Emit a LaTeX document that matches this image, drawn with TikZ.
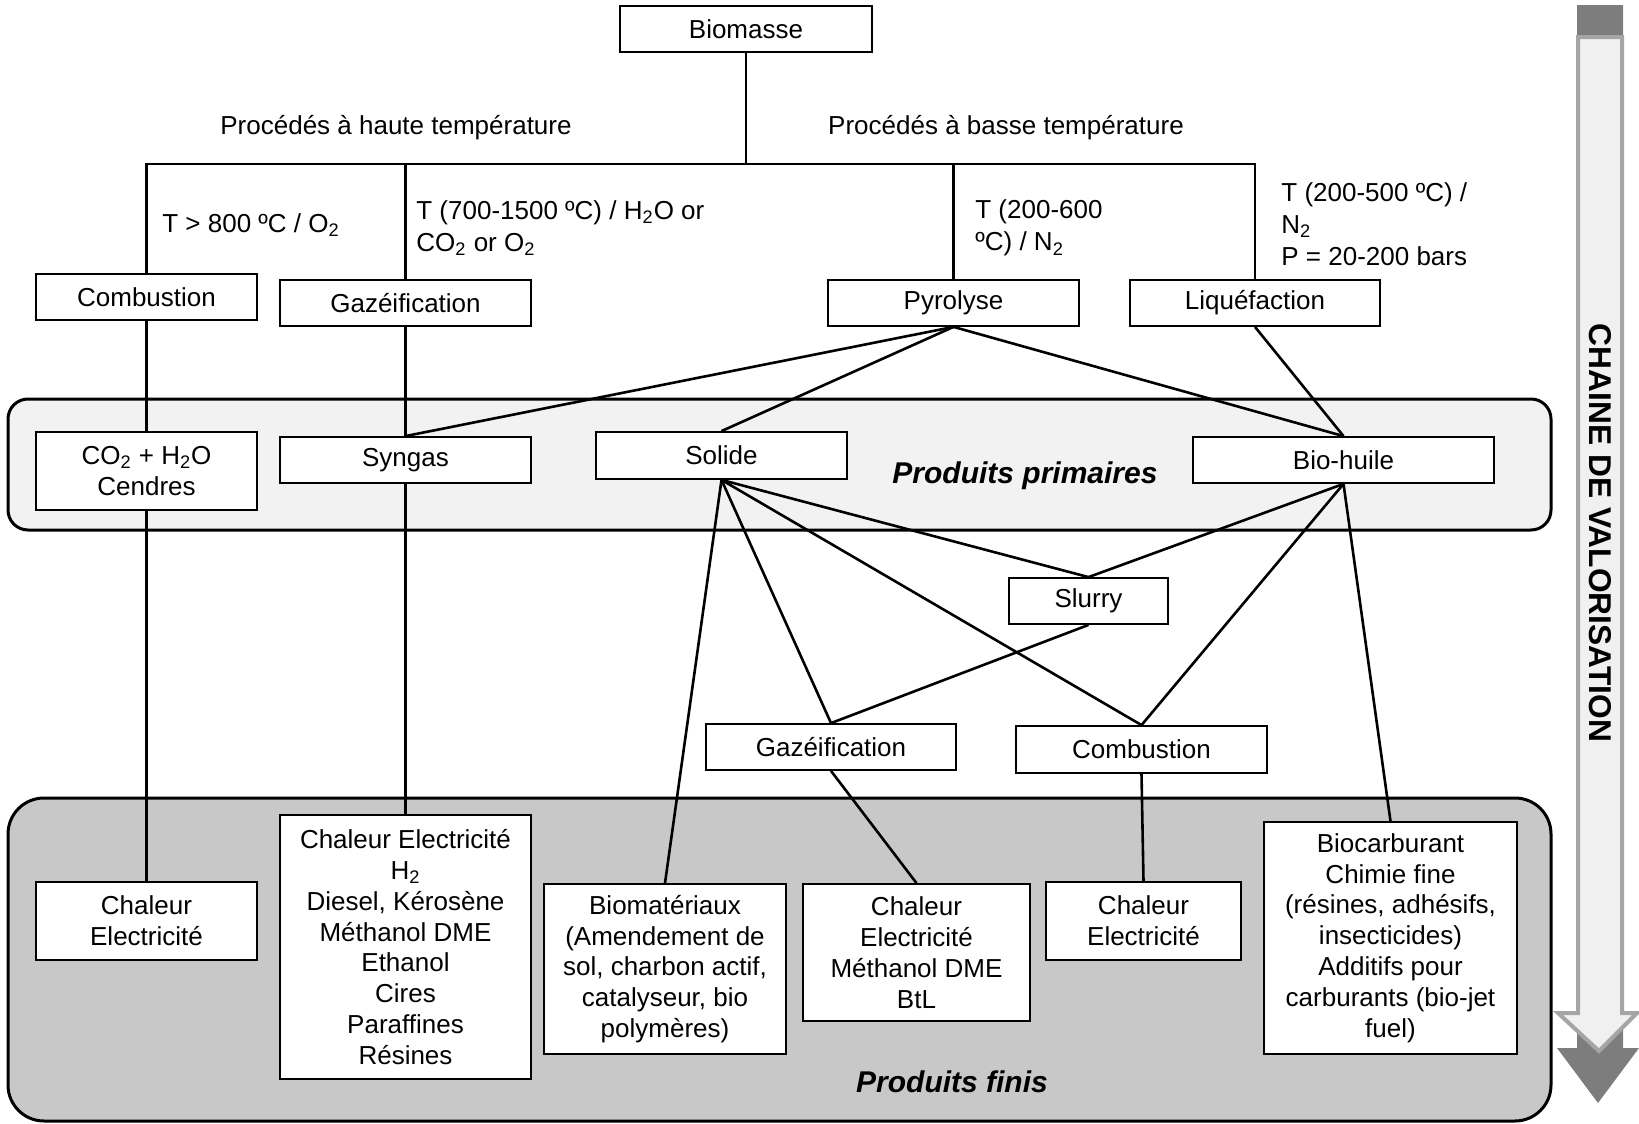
\documentclass[tikz,border=0pt]{standalone}
\usepackage{fontspec}
\setmainfont{Liberation Sans}
\definecolor{primfill}{RGB}{242,242,242}
\definecolor{finfill}{RGB}{200,200,200}
\definecolor{arrdark}{RGB}{125,125,125}
\definecolor{arrlight}{RGB}{240,240,240}
\definecolor{arredge}{RGB}{165,165,165}
\begin{document}
\begin{tikzpicture}[x=0.5pt,y=-0.5pt,
  box/.style={draw, fill=white, line width=0.9pt, inner sep=0pt, align=center,
    font=\fontsize{13}{15.4}\selectfont},
  lbl/.style={inner sep=0pt, align=left, anchor=west, font=\fontsize{13}{16}\selectfont},
  head/.style={inner sep=0pt, font=\fontsize{13}{16}\selectfont},
  bandlbl/.style={inner sep=0pt, font=\fontsize{15}{18}\selectfont\bfseries\itshape},
  conn/.style={line width=1.3pt},
  band/.style={draw, line width=1.5pt}]
\useasboundingbox (0,0) rectangle (1639,1124);

% bands
\draw[band, fill=primfill, rounded corners=10pt] (8,399) rectangle (1551,530);
\draw[band, fill=finfill, rounded corners=18pt] (8,798) rectangle (1551,1121);

% arrow on the right
\fill[arrdark] (1577,5) -- (1623,5) -- (1623,1048) -- (1639,1048) -- (1598,1103)
  -- (1557,1048) -- (1577,1048) -- cycle;
\draw[arredge, fill=arrlight, line width=2pt] (1578,37) -- (1622,37) -- (1622,1013)
  -- (1637,1013) -- (1599,1051) -- (1558,1013) -- (1578,1013) -- cycle;
\node[rotate=-90, inner sep=0pt] (cv) at (1600,533)
  {\resizebox{209pt}{11pt}{\bfseries CHAINE DE VALORISATION}};

% top level
\node[box, minimum width=126pt, minimum height=23pt] (bio) at (746,29) {Biomasse};
\node[box, minimum width=110.5pt, minimum height=23pt] (comb) at (146.5,297) {Combustion};
\node[box, minimum width=125.5pt, minimum height=23pt] (gaz) at (405.5,303) {Gazéification};
\node[box, minimum width=125.5pt, minimum height=23pt] (pyro) at (953.5,303) {Pyrolyse};
\node[box, minimum width=125pt, minimum height=23pt] (liq) at (1255,303) {Liquéfaction};

\node[head] (ht) at (396,128) {Procédés à haute température};
\node[head] (bt) at (1006,128) {Procédés à basse température};
\node[lbl] (l1) at (162,225) {T > 800 ºC / O\textsubscript{2}};
\node[lbl] (l2) at (416,228) {T (700-1500 ºC) / H\textsubscript{2}O or\\CO\textsubscript{2} or O\textsubscript{2}};
\node[lbl] (l3) at (975,228) {T (200-600\\ºC) / N\textsubscript{2}};
\node[lbl] (l4) at (1281,224) {T (200-500 ºC) /\\N\textsubscript{2}\\P = 20-200 bars};

% primary products
\node[box, minimum width=110.5pt, minimum height=39pt] (co2) at (146.5,471)
  {CO\textsubscript{2} + H\textsubscript{2}O\\Cendres};
\node[box, minimum width=125.5pt, minimum height=23pt] (syn) at (405.5,460) {Syngas};
\node[box, minimum width=125.5pt, minimum height=23.5pt] (sol) at (721.5,455.5) {Solide};
\node[box, minimum width=150.5pt, minimum height=23pt] (bh) at (1343.5,460) {Bio-huile};
\node[bandlbl] (pp) at (1025,476) {Produits primaires};

% intermediate
\node[box, minimum width=79.5pt, minimum height=23pt] (slu) at (1088.5,601) {Slurry};
\node[box, minimum width=125pt, minimum height=23pt] (gaz2) at (831,747) {Gazéification};
\node[box, minimum width=125.5pt, minimum height=23.5pt] (comb2) at (1141.5,749.5) {Combustion};

% final products
\node[box, minimum width=110.5pt, minimum height=39pt] (ch1) at (146.5,921)
  {Chaleur\\Electricité};
\node[box, minimum width=125.5pt, minimum height=132pt] (big) at (405.5,947)
  {Chaleur Electricité\\H\textsubscript{2}\\Diesel, Kérosène\\Méthanol DME\\Ethanol\\Cires\\Paraffines\\Résines};
\node[box, minimum width=121pt, minimum height=85pt] (biom) at (665,969)
  {Biomatériaux\\(Amendement de\\sol, charbon actif,\\catalyseur, bio\\polymères)};
\node[box, minimum width=113.5pt, minimum height=68.5pt] (btl) at (916.5,952.5)
  {Chaleur\\Electricité\\Méthanol DME\\BtL};
\node[box, minimum width=97.5pt, minimum height=39pt] (ch3) at (1143.5,921)
  {Chaleur\\Electricité};
\node[box, minimum width=126.5pt, minimum height=116pt] (bioc) at (1390.5,938)
  {Biocarburant\\Chimie fine\\(résines, adhésifs,\\insecticides)\\Additifs pour\\carburants (bio-jet\\fuel)};
\node[bandlbl] (pf) at (952,1082) {Produits finis};

% connectors
\coordinate (jb) at (746,164);
\draw[conn] (bio.south) -- (jb);
\draw[conn] (comb.north) -- (comb.north |- jb) -- (liq.north |- jb) -- (liq.north);
\draw[conn] (gaz.north) -- (gaz.north |- jb);
\draw[conn] (pyro.north) -- (pyro.north |- jb);

\draw[conn] (pyro.south) -- (syn.north);
\draw[conn] (pyro.south) -- (sol.north);
\draw[conn] (pyro.south) -- (bh.north);
\draw[conn] (liq.south) -- (bh.north);
\draw[conn] (comb.south) -- (co2.north);
\draw[conn] (gaz.south) -- (syn.north);
\draw[conn] (co2.south) -- (ch1.north);
\draw[conn] (syn.south) -- (big.north);
\draw[conn] (sol.south) -- (biom.north);
\draw[conn] (sol.south) -- (gaz2.north);
\draw[conn] (sol.south) -- (slu.north);
\draw[conn] (sol.south) -- (comb2.north);
\draw[conn] (bh.south) -- (slu.north);
\draw[conn] (bh.south) -- (comb2.north);
\draw[conn] (bh.south) -- (bioc.north);
\draw[conn] (slu.south) -- (gaz2.north);
\draw[conn] (gaz2.south) -- (btl.north);
\draw[conn] (comb2.south) -- (ch3.north);
\end{tikzpicture}
\end{document}
